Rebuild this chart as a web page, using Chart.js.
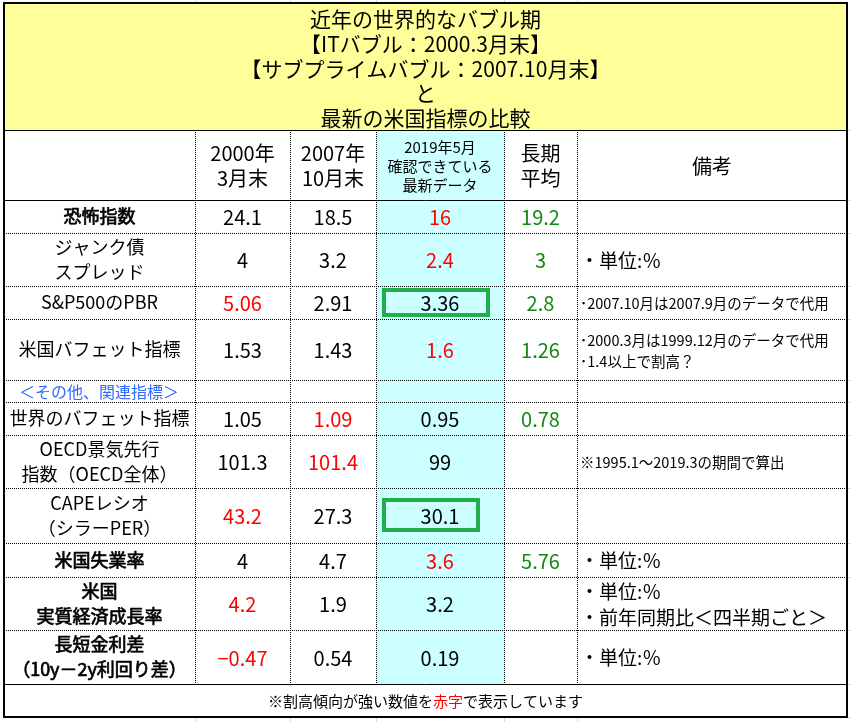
<!DOCTYPE html>
<html>
<head>
<meta charset="utf-8">
<script src="https://cdn.jsdelivr.net/npm/chart.js@4"></script>
<style>
  html, body { margin: 0; padding: 0; background: #fff; }
  #table-chart { display: block; }
</style>
</head>
<body>
<canvas id="table-chart" width="851" height="722"></canvas>
<script>
// ---- data ----
const titleLines = [
  "近年の世界的なバブル期",
  "【ITバブル：2000.3月末】",
  "【サブプライムバブル：2007.10月末】",
  "と",
  "最新の米国指標の比較",
];
const columnHeaders = [
  ["2000年", "3月末"],
  ["2007年", "10月末"],
  ["2019年5月", "確認できている", "最新データ"],
  ["長期", "平均"],
  ["備考"],
];
const rowLabels = [
  ["恐怖指数"],
  ["ジャンク債", "スプレッド"],
  ["S&P500のPBR"],
  ["米国バフェット指標"],
  ["＜その他、関連指標＞"],
  ["世界のバフェット指標"],
  ["OECD景気先行", "指数（OECD全体）"],
  ["CAPEレシオ", "（シラーPER）"],
  ["米国失業率"],
  ["米国", "実質経済成長率"],
  ["長短金利差", "（10y－2y利回り差）"],
];
const values2000 = [24.1, 4, 5.06, 1.53, null, 1.05, 101.3, 43.2, 4, 4.2, -0.47];
const values2007 = [18.5, 3.2, 2.91, 1.43, null, 1.09, 101.4, 27.3, 4.7, 1.9, 0.54];
const valuesLatest = [16, 2.4, 3.36, 1.6, null, 0.95, 99, 30.1, 3.6, 3.2, 0.19];
const valuesLongAvg = [19.2, 3, 2.8, 1.26, null, 0.78, null, null, 5.76, null, null];
// rows shown in red ("割高傾向が強い")
const red2000 = [false, false, true, false, false, false, false, true, false, true, true];
const red2007 = [false, false, false, false, false, true, true, false, false, false, false];
const redLatest = [true, true, false, true, false, false, false, false, true, false, false];
const remarks = [
  [],
  ["・単位:％"],
  ["･2007.10月は2007.9月のデータで代用"],
  ["･2000.3月は1999.12月のデータで代用", "･1.4以上で割高？"],
  [],
  [],
  ["※1995.1～2019.3の期間で算出"],
  [],
  ["・単位:％"],
  ["・単位:％", "・前年同期比＜四半期ごと＞"],
  ["・単位:％"],
];
const boxedLatest = [2, 7];
const footnote = ["※割高傾向が強い数値を", "赤字", "で表示しています"];

// ---- layout (in the scale units of the hidden axes) ----
const colEdges = [4, 195, 290, 376, 504, 577, 847];
const titleTop = 3;
const rowEdges = [130, 200, 233, 286, 319, 380, 402, 435, 488, 543, 577, 630, 684, 717];
const boxInsets = { 2: [6, 2, 14, 2], 7: [6, 10, 24, 11] }; // left, top, right, bottom
const smallRemarkRows = new Set([2, 3, 6]);
const boldLabelRows = new Set([0, 8, 9, 10]);

const JP = '"Noto Sans CJK JP", "Noto Sans", sans-serif';
const RED = "#ff0000";
const GREEN = "#108a10";

const fmt = (v) => (v === null ? "" : String(v).replace("-", "−"));

const tablePlugin = {
  id: "tablePlugin",
  afterDraw(chart) {
    const { ctx } = chart;
    const sx = (v) => chart.scales.x.getPixelForValue(v);
    const sy = (v) => chart.scales.y.getPixelForValue(v);

    const text = (str, x, y, size, color = "#000", align = "center", fauxBold = false) => {
      ctx.font = `normal ${size}px ${JP}`;
      ctx.fillStyle = color;
      ctx.textAlign = align;
      ctx.textBaseline = "middle";
      ctx.fillText(str, sx(x), sy(y));
      if (fauxBold) {
        ctx.strokeStyle = color;
        ctx.lineWidth = 0.7;
        ctx.strokeText(str, sx(x), sy(y));
      }
    };
    const hLine = (y, x0, x1, dotted, width = 1, color = "#000") => {
      ctx.save();
      ctx.strokeStyle = color;
      ctx.lineWidth = width;
      ctx.setLineDash(dotted ? [1, 1] : []);
      ctx.beginPath();
      ctx.moveTo(sx(x0), Math.round(sy(y)) + 0.5);
      ctx.lineTo(sx(x1), Math.round(sy(y)) + 0.5);
      ctx.stroke();
      ctx.restore();
    };
    const vLine = (x, y0, y1, dotted, width = 1, color = "#000") => {
      ctx.save();
      ctx.strokeStyle = color;
      ctx.lineWidth = width;
      ctx.setLineDash(dotted ? [1, 1] : []);
      ctx.beginPath();
      ctx.moveTo(Math.round(sx(x)) + 0.5, sy(y0));
      ctx.lineTo(Math.round(sx(x)) + 0.5, sy(y1));
      ctx.stroke();
      ctx.restore();
    };
    const fillRect = (x0, y0, x1, y1, color) => {
      ctx.fillStyle = color;
      ctx.fillRect(sx(x0), sy(y0), sx(x1) - sx(x0), sy(y1) - sy(y0));
    };

    const left = colEdges[0];
    const right = colEdges[colEdges.length - 1];
    const bottom = rowEdges[rowEdges.length - 1];
    const headTop = rowEdges[0];
    const bodyTop = rowEdges[1];
    const footTop = rowEdges[rowEdges.length - 2];

    // faint spreadsheet grid outside the table
    colEdges.slice(1, -1).forEach((x) => {
      vLine(x, 0, titleTop, false, 1, "#d9d9d9");
      vLine(x, bottom, 722, false, 1, "#d9d9d9");
    });
    rowEdges.forEach((y) => hLine(y, right + 1, 851, false, 1, "#d9d9d9"));

    // fills
    fillRect(left, titleTop, right, headTop, "#ffff99");
    fillRect(colEdges[3], headTop, colEdges[4], footTop, "#ccffff");

    // title
    titleLines.forEach((line, i) => {
      text(line, (left + right) / 2, titleTop + 16 + i * 24.8, 21);
    });

    // header row
    const headMid = (headTop + bodyTop) / 2;
    columnHeaders.forEach((lines, c) => {
      const cx = (colEdges[c + 1] + colEdges[c + 2]) / 2;
      const small = lines.length > 2;
      const gap = small ? 19 : 25;
      const size = small ? 15 : 20;
      lines.forEach((line, i) => {
        text(line, cx, headMid + (i - (lines.length - 1) / 2) * gap + 1, size);
      });
    });

    // body rows
    const series = [
      [values2000, red2000],
      [values2007, red2007],
      [valuesLatest, redLatest],
      [valuesLongAvg, null],
    ];
    rowLabels.forEach((lines, r) => {
      const y0 = rowEdges[r + 1];
      const y1 = rowEdges[r + 2];
      const mid = (y0 + y1) / 2;
      if (valuesLatest[r] === null) {
        text(lines[0], left + 15, mid + 1, 16, "#2f6bff", "left");
        return;
      }
      const lcx = (colEdges[0] + colEdges[1]) / 2;
      lines.forEach((line, i) => {
        text(line, lcx, mid + (i - (lines.length - 1) / 2) * 25, 18, "#000", "center",
          boldLabelRows.has(r));
      });
      series.forEach(([vals, reds], c) => {
        const cx = (colEdges[c + 1] + colEdges[c + 2]) / 2;
        const color = reds === null ? GREEN : reds[r] ? RED : "#000";
        text(fmt(vals[r]), cx, mid + 1, 20, color);
      });
      const small = smallRemarkRows.has(r);
      const size = small ? 14.5 : 19;
      const gap = small ? 21 : 26;
      remarks[r].forEach((line, i) => {
        text(line, colEdges[5] + 3, mid + (i - (remarks[r].length - 1) / 2) * gap + 1, size, "#000", "left");
      });
    });

    // footnote
    ctx.font = `normal 15px ${JP}`;
    const widths = footnote.map((s) => ctx.measureText(s).width);
    const total = widths.reduce((a, b) => a + b, 0);
    let fx = sx((left + right) / 2) - total / 2;
    footnote.forEach((s, i) => {
      ctx.fillStyle = i === 1 ? RED : "#000";
      ctx.textAlign = "left";
      ctx.textBaseline = "middle";
      ctx.fillText(s, fx, sy((footTop + bottom) / 2 + 1));
      fx += widths[i];
    });

    // inner dotted grid
    rowEdges.slice(2, -2).forEach((y) => hLine(y, left, right, true));
    colEdges.slice(1, -1).forEach((x) => vLine(x, headTop, footTop, true));

    // solid rules
    hLine(headTop, left, right, false);
    hLine(bodyTop, left, right, false);
    hLine(footTop, left, right, false);
    ctx.save();
    ctx.strokeStyle = "#000";
    ctx.lineWidth = 2;
    ctx.strokeRect(sx(left), sy(titleTop), sx(right) - sx(left), sy(bottom) - sy(titleTop));
    ctx.restore();

    // green highlight boxes
    boxedLatest.forEach((r) => {
      const [il, it, ir, ib] = boxInsets[r];
      const x0 = colEdges[3] + il;
      const x1 = colEdges[4] - ir;
      const y0 = rowEdges[r + 1] + it;
      const y1 = rowEdges[r + 2] - ib;
      ctx.save();
      ctx.strokeStyle = "#22ad4b";
      ctx.lineWidth = 4;
      ctx.strokeRect(sx(x0) + 2, sy(y0) + 2, sx(x1) - sx(x0) - 4, sy(y1) - sy(y0) - 4);
      ctx.restore();
    });
  },
};

new Chart(document.getElementById("table-chart"), {
  type: "scatter",
  data: { datasets: [] },
  options: {
    responsive: false,
    animation: false,
    layout: { padding: 0 },
    scales: {
      x: { type: "linear", min: 0, max: 851, display: false },
      y: { type: "linear", min: 0, max: 722, reverse: true, display: false },
    },
    plugins: {
      legend: { display: false },
      tooltip: { enabled: false },
    },
  },
  plugins: [tablePlugin],
});
</script>
</body>
</html>
